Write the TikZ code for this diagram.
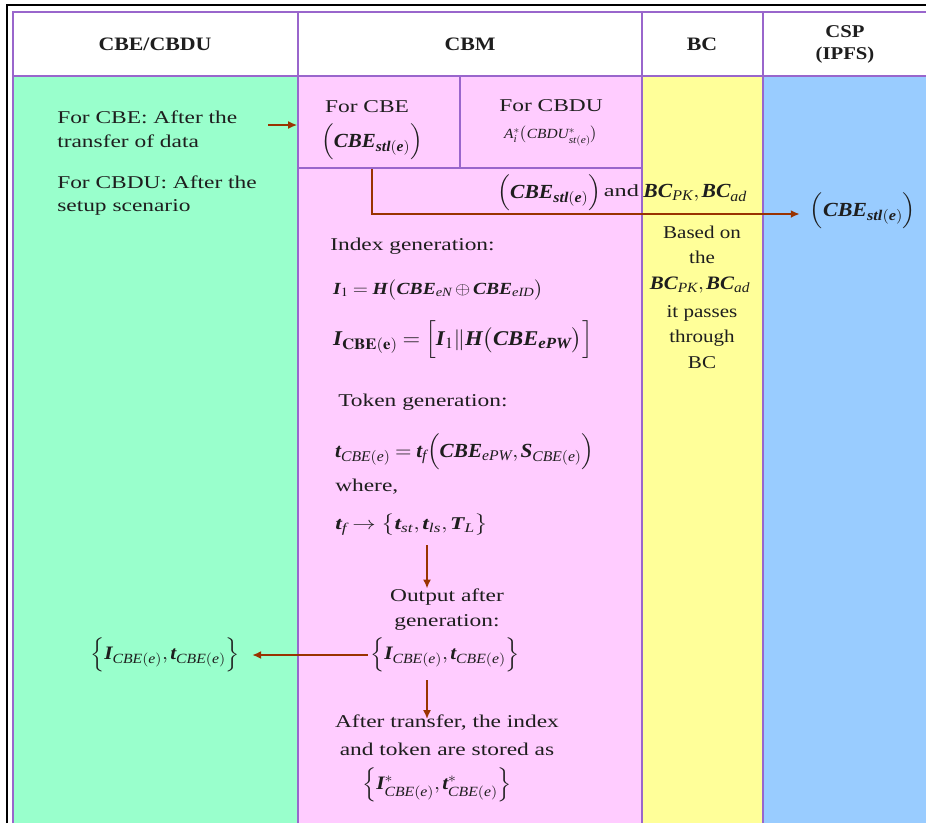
\documentclass[tikz,border=0pt]{standalone}
\usepackage{amsmath}
\usepackage{mathptmx}
\usepackage{fontspec}
\setmainfont{Liberation Serif}
\newfontfamily\libs{Liberation Serif}[NFSSFamily=libs]
\DeclareMathAlphabet{\mbi}{TU}{libs}{b}{it}
\DeclareMathAlphabet{\mli}{TU}{libs}{m}{it}
\usetikzlibrary{arrows.meta}
\definecolor{cgreen}{HTML}{99FFCC}
\definecolor{cpink}{HTML}{FFCCFF}
\definecolor{cyellow}{HTML}{FFFF99}
\definecolor{cblue}{HTML}{99CCFF}
\definecolor{cline}{HTML}{9966CC}
\definecolor{carrow}{HTML}{993300}
\definecolor{ink}{HTML}{1E1E1E}
\newcommand{\cbesto}{\Bigl(\mbi{CBE}_{\mbi{stl(e)}}\Bigr)}
\newcommand{\bcpair}{\mbi{BC}_{\mli{PK}},\mbi{BC}_{\mli{ad}}}
\begin{document}
\begin{tikzpicture}[x=1pt,y=-1pt,
  pline/.style={draw=cline,line width=1.6pt},
  arr/.style={draw=carrow,line width=1.8pt,-{Latex[length=9pt,width=8pt]}},
  hd/.style={font=\fontsize{19}{22}\selectfont\bfseries,xscale=1.15,align=center,inner sep=0pt,text=ink},
  tx/.style={font=\fontsize{18}{20}\selectfont,xscale=1.3,inner sep=0pt,text=ink},
  mt/.style={font=\fontsize{18}{20}\selectfont,inner sep=0pt,text=ink},
  cell/.style={draw=cline,line width=1.6pt,inner sep=0pt}]
\useasboundingbox (0,0) rectangle (926,823);
\fill[white] (0,0) rectangle (926,823);
% columns
\fill[cgreen] (13,76) rectangle (298,823);
\fill[cpink] (298,76) rectangle (642,823);
\fill[cyellow] (642,76) rectangle (763,823);
\fill[cblue] (763,76) rectangle (926,823);
% outer frame
\draw[black,line width=1.2pt] (7,823) -- (7,5) -- (926,5);
\draw[pline] (13,823) -- (13,12) -- (926,12);
\draw[pline] (13,76) -- (926,76);
\draw[pline] (298,12) -- (298,823);
\draw[pline] (642,12) -- (642,823);
\draw[pline] (763,12) -- (763,823);
% CBM sub-boxes
\node[cell,minimum width=162pt,minimum height=92pt] (cbebox) at (379,122) {};
\node[cell,minimum width=182pt,minimum height=92pt] (cbdubox) at (551,122) {};
% headers
\node[hd] (h1) at (155,44) {CBE/CBDU};
\node[hd] (h2) at (470,44) {CBM};
\node[hd] (h3) at (702,44) {BC};
\node[hd,font=\fontsize{18}{22}\selectfont\bfseries] (h4) at (845,44) {CSP\\(IPFS)};
% green column text
\node[tx,anchor=west] (g1) at (57,117) {For CBE: After the};
\node[tx,anchor=west] (g2) at (57,141) {transfer of data};
\node[tx,anchor=west] (g3) at (57,182) {For CBDU: After the};
\node[tx,anchor=west] (g4) at (57,207) {setup scenario};
% CBM top boxes
\node[tx] (c1) at (367,107) {For CBE};
\node[mt,font=\fontsize{20}{22}\selectfont,xscale=1.05] (c2) at (372,142) {$\cbesto$};
\node[tx] (d1) at (551,106) {For CBDU};
\node[mt,font=\fontsize{14}{16}\selectfont,xscale=1.1] (d2) at (551,136) {$\mli{A}_{\mli{i}}^{*}\bigl(\mli{CBDU}^{*}_{\mli{st(e)}}\bigr)$};
% transfer line
\node[mt,anchor=west,font=\fontsize{20}{22}\selectfont,xscale=1.08] (tr) at (497,193) {$\cbesto$};
\node[tx,anchor=west,font=\fontsize{17}{20}\selectfont,xscale=1.1] (tra) at ([xshift=2pt,yshift=2pt]tr.east) {and};
\node[mt,anchor=west,font=\fontsize{20}{22}\selectfont,xscale=1.08] (trb) at ([xshift=4pt,yshift=-2pt]tra.east) {$\bcpair$};
\node[mt,font=\fontsize{20}{22}\selectfont,xscale=1.1] (cs) at (863,211) {$\cbesto$};
% BC column
\node[tx,xscale=0.9] (b1) at (702,232) {Based on};
\node[tx,xscale=0.9] (b2) at (702,257) {the};
\node[mt,font=\fontsize{19}{20}\selectfont,xscale=1.1] (b3) at (700,285) {$\bcpair$};
\node[tx,xscale=0.9] (b4) at (702,313) {it passes};
\node[tx,xscale=0.9] (b5) at (702,338) {through};
\node[tx,xscale=0.9] (b6) at (702,363) {BC};
% index generation
\node[tx,anchor=west] (i0) at (330,246) {Index generation:};
\node[mt,anchor=west,font=\fontsize{17}{18}\selectfont,xscale=1.15] (i1) at (333,290) {$\mbi{I}_{1}=\mbi{H}\bigl(\mbi{CBE}_{\mli{eN}}\oplus \mbi{CBE}_{\mli{eID}}\bigr)$};
\node[mt,anchor=west,font=\fontsize{21}{22}\selectfont,xscale=1.08] (i2) at (333,340) {$\mbi{I}_{\mathbf{CBE(e)}}=\Bigl[\mbi{I}_{1}\|\mbi{H}\bigl(\mbi{CBE}_{\mbi{ePW}}\bigr)\Bigr]$};
% token generation
\node[tx,anchor=west] (t0) at (338,402) {Token generation:};
\node[mt,anchor=west,font=\fontsize{20}{22}\selectfont,xscale=1.06] (t1) at (335,452) {$\mbi{t}_{\mli{CBE(e)}}=\mbi{t}_{\mli{f}}\Bigl(\mbi{CBE}_{\mli{ePW}},\mbi{S}_{\mli{CBE(e)}}\Bigr)$};
\node[tx,anchor=west] (t2) at (335,487) {where,};
\node[mt,anchor=west,font=\fontsize{18}{20}\selectfont,xscale=1.3] (t3) at (335,525) {$\mbi{t}_{\mli{f}}\rightarrow\bigl\{\mbi{t}_{\mli{st}},\mbi{t}_{\mli{ls}},\mbi{T}_{\mli{L}}\bigr\}$};
% output
\node[tx] (o1) at (447,597) {Output after};
\node[tx] (o2) at (447,622) {generation:};
\node[mt,font=\fontsize{19}{22}\selectfont,xscale=1.12] (o3) at (445,655) {$\Bigl\{\mbi{I}_{\mli{CBE(e)}},\mbi{t}_{\mli{CBE(e)}}\Bigr\}$};
\node[mt,font=\fontsize{19}{22}\selectfont,xscale=1.12] (lset) at (165,655) {$\Bigl\{\mbi{I}_{\mli{CBE(e)}},\mbi{t}_{\mli{CBE(e)}}\Bigr\}$};
\node[tx] (s1) at (447,723) {After transfer, the index};
\node[tx] (s2) at (447,749) {and token are stored as};
\node[mt,font=\fontsize{19}{22}\selectfont,xscale=1.12] (s3) at (437,785) {$\Bigl\{\mbi{I}^{*}_{\mli{CBE(e)}},\mbi{t}^{*}_{\mli{CBE(e)}}\Bigr\}$};
% connectors
\coordinate (g1e) at (268,125);
\draw[arr] (g1e) -- (g1e -| cbebox.west);
\draw[arr] ([xshift=-7pt]cbebox.south) |- ([xshift=-10pt,yshift=-3pt]cs.west);
\coordinate (a1s) at (427,545);
\draw[arr] (a1s) -- (a1s |- o1.north);
\draw[arr] ([xshift=-2pt]o3.west) -- ([xshift=12pt]lset.east);
\coordinate (a2s) at (427,680);
\draw[arr] (a2s) -- ([yshift=-4pt]a2s |- s1.north);
\end{tikzpicture}
\end{document}
